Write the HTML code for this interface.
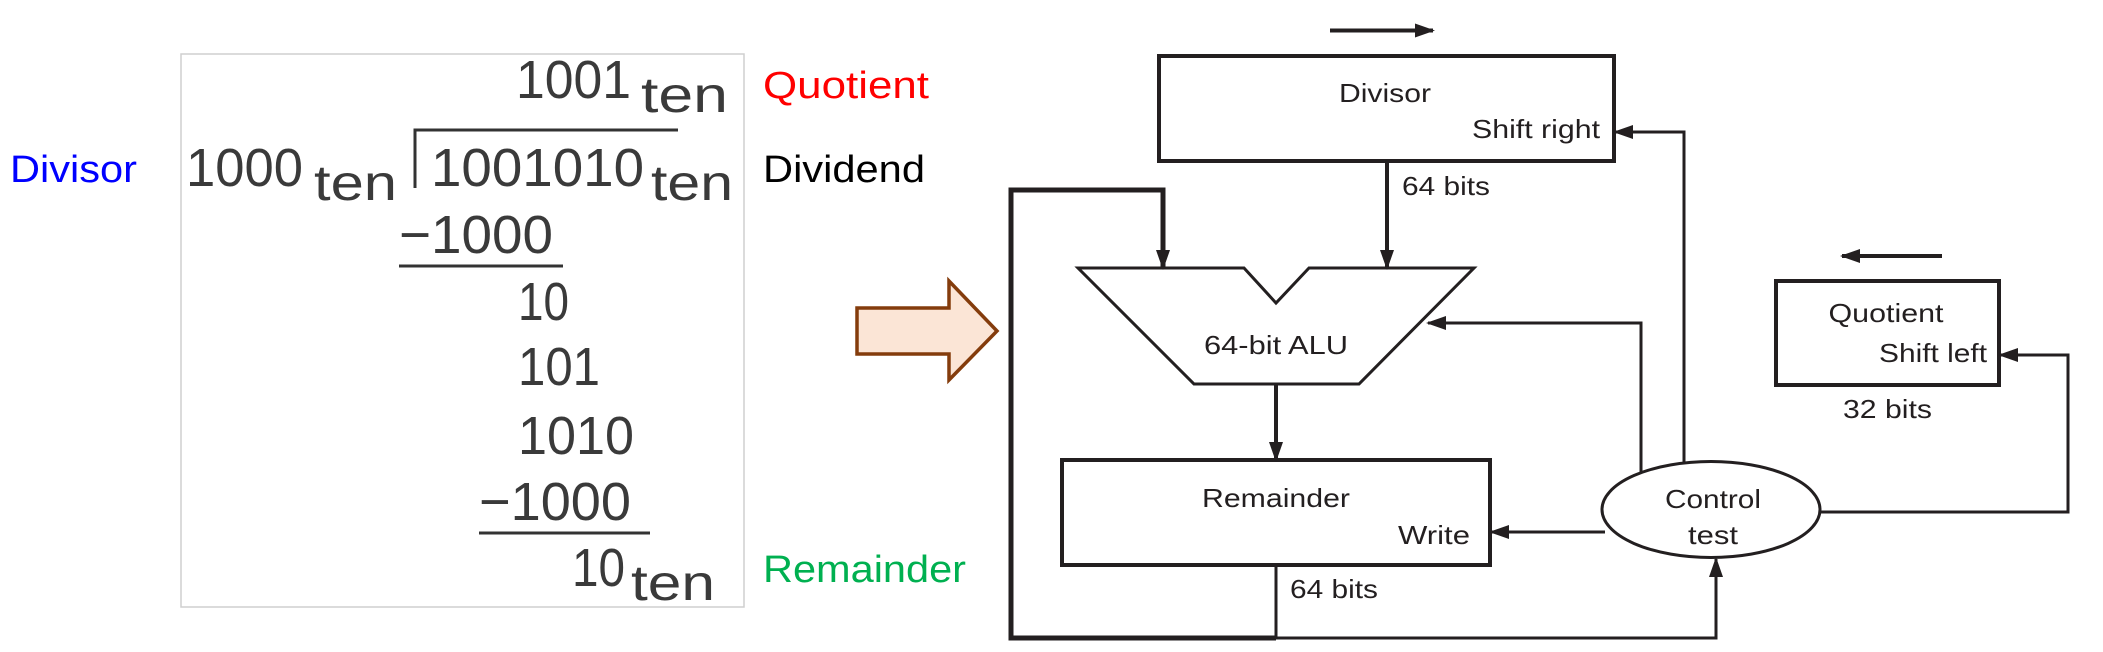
<!DOCTYPE html>
<html><head><meta charset="utf-8"><style>html,body{margin:0;padding:0;background:#fff}svg{display:block}</style></head>
<body>
<svg width="2103" height="652" viewBox="0 0 2103 652" xmlns="http://www.w3.org/2000/svg">
<defs>
<marker id="ah" markerWidth="20" markerHeight="14" refX="18" refY="7" orient="auto" markerUnits="userSpaceOnUse" viewBox="0 0 20 14">
<path d="M0,0 L20,7 L0,14 Z" fill="#231f20"/></marker>
</defs>
<g font-family="'Liberation Sans', sans-serif">
<!-- left -->
<rect x="181" y="54" width="563" height="553" fill="#fff" stroke="#cfcfcf" stroke-width="1.5"/>
<text x="10" y="182" font-size="38" fill="#0000ff" textLength="127" lengthAdjust="spacingAndGlyphs">Divisor</text>
<text x="763" y="98" font-size="38" fill="#ff0000" textLength="166" lengthAdjust="spacingAndGlyphs">Quotient</text>
<text x="763" y="182" font-size="38" fill="#000" textLength="162" lengthAdjust="spacingAndGlyphs">Dividend</text>
<text x="763" y="582" font-size="38" fill="#00b050" textLength="203" lengthAdjust="spacingAndGlyphs">Remainder</text>
<g fill="#3a3a3a" font-size="54">
<text x="516" y="98" textLength="115" lengthAdjust="spacingAndGlyphs">1001</text>
<text x="641" y="112" font-size="50" textLength="87" lengthAdjust="spacingAndGlyphs">ten</text>
<text x="186" y="186" textLength="117" lengthAdjust="spacingAndGlyphs">1000</text>
<text x="314" y="200" font-size="50" textLength="83" lengthAdjust="spacingAndGlyphs">ten</text>
<text x="431" y="186" textLength="213" lengthAdjust="spacingAndGlyphs">1001010</text>
<text x="651" y="200" font-size="50" textLength="82" lengthAdjust="spacingAndGlyphs">ten</text>
<text x="399" y="253" textLength="154" lengthAdjust="spacingAndGlyphs">−1000</text>
<text x="518" y="320" textLength="51" lengthAdjust="spacingAndGlyphs">10</text>
<text x="518" y="385" textLength="82" lengthAdjust="spacingAndGlyphs">101</text>
<text x="518" y="454" textLength="116" lengthAdjust="spacingAndGlyphs">1010</text>
<text x="479" y="520" textLength="152" lengthAdjust="spacingAndGlyphs">−1000</text>
<text x="572" y="586" textLength="53" lengthAdjust="spacingAndGlyphs">10</text>
<text x="631" y="600" font-size="50" textLength="84" lengthAdjust="spacingAndGlyphs">ten</text>
</g>
<g stroke="#333" stroke-width="3" fill="none">
<path d="M678,130 H415 V188"/>
<line x1="399" y1="266" x2="563" y2="266"/>
<line x1="479" y1="533" x2="650" y2="533"/>
</g>
<polygon points="857,308 949,308 949,281 997,331 949,380 949,354 857,354" fill="#fbe5d6" stroke="#843c0c" stroke-width="3.5"/>

<!-- right diagram -->
<g stroke="#231f20" fill="none">
<line x1="1330" y1="30.5" x2="1433" y2="30.5" stroke-width="4" marker-end="url(#ah)"/>
<line x1="1942" y1="256" x2="1842" y2="256" stroke-width="4" marker-end="url(#ah)"/>
<rect x="1159" y="56" width="455" height="105" stroke-width="4"/>
<rect x="1062" y="460" width="428" height="105" stroke-width="4"/>
<rect x="1776" y="281" width="223" height="104" stroke-width="4"/>
<polygon points="1078,268 1244,268 1276,303 1309,268 1474,268 1359,384 1194,384" stroke-width="3" fill="#fff"/>
<line x1="1387" y1="161" x2="1387" y2="268" stroke-width="4" marker-end="url(#ah)"/>
<path d="M1276,638 H1011 V190 H1163 V268" stroke-width="5" marker-end="url(#ah)"/>
<line x1="1276" y1="565" x2="1276" y2="638" stroke-width="3"/>
<path d="M1276,638 H1716 V559" stroke-width="3" marker-end="url(#ah)"/>
<line x1="1276" y1="384" x2="1276" y2="460" stroke-width="4" marker-end="url(#ah)"/>
<path d="M1684,463 V132 H1615" stroke-width="3" marker-end="url(#ah)"/>
<path d="M1641,472 V323 H1428" stroke-width="3" marker-end="url(#ah)"/>
<line x1="1605" y1="532" x2="1491" y2="532" stroke-width="3" marker-end="url(#ah)"/>
<path d="M1821,512 H2068 V355 H2000" stroke-width="3" marker-end="url(#ah)"/>
<ellipse cx="1711" cy="509.5" rx="109" ry="48" stroke-width="3" fill="#fff"/>
</g>
<g fill="#231f20" font-size="26">
<text x="1385" y="102" text-anchor="middle" textLength="92" lengthAdjust="spacingAndGlyphs">Divisor</text>
<text x="1472" y="138" textLength="128" lengthAdjust="spacingAndGlyphs">Shift right</text>
<text x="1402" y="195" textLength="88" lengthAdjust="spacingAndGlyphs">64 bits</text>
<text x="1276" y="354" text-anchor="middle" textLength="144" lengthAdjust="spacingAndGlyphs">64-bit ALU</text>
<text x="1276" y="507" text-anchor="middle" textLength="148" lengthAdjust="spacingAndGlyphs">Remainder</text>
<text x="1470" y="544" text-anchor="end" textLength="72" lengthAdjust="spacingAndGlyphs">Write</text>
<text x="1290" y="598" textLength="88" lengthAdjust="spacingAndGlyphs">64 bits</text>
<text x="1713" y="508" text-anchor="middle" textLength="96" lengthAdjust="spacingAndGlyphs">Control</text>
<text x="1713" y="544" text-anchor="middle" textLength="50" lengthAdjust="spacingAndGlyphs">test</text>
<text x="1886" y="322" text-anchor="middle" textLength="115" lengthAdjust="spacingAndGlyphs">Quotient</text>
<text x="1987" y="362" text-anchor="end" textLength="108" lengthAdjust="spacingAndGlyphs">Shift left</text>
<text x="1843" y="418" textLength="89" lengthAdjust="spacingAndGlyphs">32 bits</text>
</g>
</g>
</svg>
</body></html>
